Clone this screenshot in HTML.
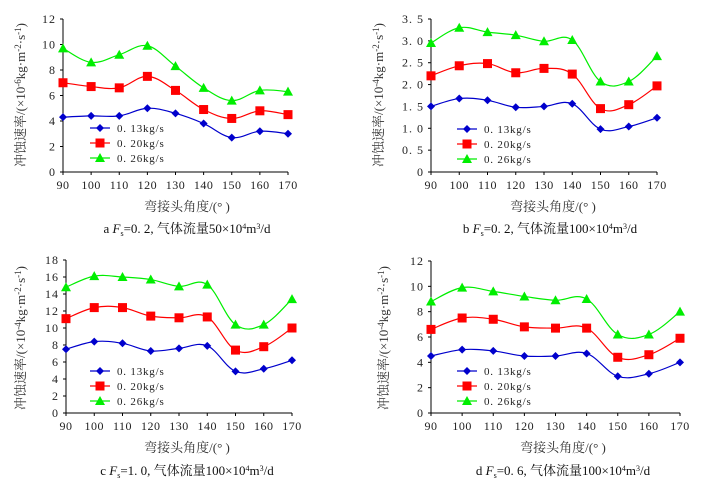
<!DOCTYPE html>
<html><head><meta charset="utf-8">
<style>
html,body{margin:0;padding:0;background:#fff;}
svg{display:block;font-family:"Liberation Serif","Noto Serif CJK SC","Noto Sans CJK SC",serif;}
</style></head>
<body>
<svg id="chart" width="703" height="490" viewBox="0 0 703 490" xmlns="http://www.w3.org/2000/svg"></svg>
<script>
const categories=[90,100,110,120,130,140,150,160,170];
const seriesNames=["0.13kg/s","0.20kg/s","0.26kg/s"];
const aBlue=[4.3,4.4,4.4,5.0,4.6,3.8,2.7,3.2,3.0];
const aRed=[7.0,6.7,6.6,7.5,6.4,4.9,4.2,4.8,4.5];
const aGreen=[9.7,8.6,9.2,9.9,8.3,6.6,5.6,6.4,6.3];
const bBlue=[1.5,1.68,1.64,1.48,1.5,1.56,0.98,1.04,1.24];
const bRed=[2.2,2.43,2.48,2.27,2.37,2.24,1.45,1.54,1.97];
const bGreen=[2.95,3.3,3.2,3.13,2.99,3.02,2.07,2.07,2.65];
const cBlue=[7.5,8.4,8.2,7.3,7.6,7.9,4.9,5.2,6.2];
const cRed=[11.1,12.4,12.4,11.4,11.2,11.3,7.4,7.8,10.0];
const cGreen=[14.8,16.1,16.0,15.7,14.9,15.1,10.4,10.4,13.4];
const dBlue=[4.5,5.0,4.9,4.5,4.5,4.7,2.9,3.1,4.0];
const dRed=[6.6,7.5,7.4,6.8,6.7,6.7,4.4,4.6,5.9];
const dGreen=[8.8,9.9,9.6,9.2,8.9,9.0,6.2,6.2,8.0];
const aTicks=[0,2,4,6,8,10,12];
const bTicks=["0","0.5","1.0","1.5","2.0","2.5","3.0","3.5"];
const cTicks=[0,2,4,6,8,10,12,14,16,18];
const dTicks=[0,2,4,6,8,10,12];

const NS="http://www.w3.org/2000/svg";
const svg=document.getElementById('chart');
function mk(tag,attrs,parent,text){const e=document.createElementNS(NS,tag);for(const k in attrs)e.setAttribute(k,attrs[k]);if(text!==undefined)e.textContent=text;(parent||svg).appendChild(e);return e;}

const panels=[
 {id:'a',x0:63,x1:288,yTop:19,yBot:172,ticks:aTicks,max:12,data:[aBlue,aRed,aGreen],lx:90,ly:128,ylx:25,yly:95,xl:[187,211],cap:[187,233],exp:'-6',fs:'0.2',flow:'50',letter:'a'},
 {id:'b',x0:431,x1:657,yTop:19,yBot:172,ticks:bTicks,max:3.5,data:[bBlue,bRed,bGreen],lx:457,ly:129,ylx:383,yly:95,xl:[553,211],cap:[550,233],exp:'-4',fs:'0.2',flow:'100',letter:'b'},
 {id:'c',x0:66,x1:292,yTop:260,yBot:413,ticks:cTicks,max:18,data:[cBlue,cRed,cGreen],lx:90,ly:371,ylx:25,yly:338,xl:[187,452],cap:[187,475],exp:'-4',fs:'1.0',flow:'100',letter:'c'},
 {id:'d',x0:431,x1:680,yTop:261,yBot:413,ticks:dTicks,max:12,data:[dBlue,dRed,dGreen],lx:457,ly:371,ylx:388,yly:338,xl:[563,452],cap:[563,475],exp:'-4',fs:'0.6',flow:'100',letter:'d'}
];
const colors=['#0000cc','#ff0000','#00ee00'];

function marker(g,type,x,y,c){
 if(type===0) return mk('polygon',{points:`${x},${y-4} ${x+4},${y} ${x},${y+4} ${x-4},${y}`,fill:c},g);
 if(type===1) return mk('rect',{x:x-4.5,y:y-4.5,width:9,height:9,fill:c},g);
 return mk('polygon',{points:`${x},${y-5} ${x+5},${y+4} ${x-5},${y+4}`,fill:c},g);
}
function smooth(pts){
 let d=`M${pts[0][0]},${pts[0][1]}`;
 for(let i=0;i<pts.length-1;i++){
  const p0=pts[i-1]||pts[i],p1=pts[i],p2=pts[i+1],p3=pts[i+2]||p2;
  const t=0.18;
  d+=` C${p1[0]+(p2[0]-p0[0])*t},${p1[1]+(p2[1]-p0[1])*t} ${p2[0]-(p3[0]-p1[0])*t},${p2[1]-(p3[1]-p1[1])*t} ${p2[0]},${p2[1]}`;
 }
 return d;
}

panels.forEach(p=>{
 const g=mk('g',{});
 
 
 const xs=v=>p.x0+(v-categories[0])/(categories[categories.length-1]-categories[0])*(p.x1-p.x0);
 const ys=v=>p.yBot-v/p.max*(p.yBot-p.yTop);
 const yax=mk('line',{x1:p.x0,y1:p.yTop,x2:p.x0,y2:p.yBot,stroke:'#000','stroke-width':1},g);
 
 const xax=mk('line',{x1:p.x0,y1:p.yBot,x2:p.x1,y2:p.yBot,stroke:'#000','stroke-width':1},g);
 
 p.ticks.forEach(t=>{
  const y=ys(parseFloat(t));
  mk('line',{x1:p.x0-3,y1:y,x2:p.x0,y2:y,stroke:'#000'},g);
  const tl=mk('text',{x:p.x0-7,y:y+4,'text-anchor':'end','font-size':12,fill:'#222','letter-spacing':'1'},g,String(t).replace('.','. '));
  
 });
 categories.forEach(c=>{
  const x=xs(c);
  mk('line',{x1:x,y1:p.yBot,x2:x,y2:p.yBot+3,stroke:'#000'},g);
  const tl=mk('text',{x:x,y:p.yBot+17,'text-anchor':'middle','font-size':12,fill:'#222','letter-spacing':'0.5'},g,String(c));
  
 });
 p.data.forEach((vals,si)=>{
  const pts=vals.map((v,i)=>[xs(categories[i]),ys(v)]);
  const ln=mk('path',{d:smooth(pts),fill:'none',stroke:colors[si],'stroke-width':1.2},g);
  
  
  pts.forEach(pt=>{
   const m=marker(g,si,pt[0],pt[1],colors[si]);
   
   
  });
  const ly=p.ly+si*15;
  const lg=mk('g',{},g);
  
  
  mk('line',{x1:p.lx,y1:ly,x2:p.lx+20,y2:ly,stroke:colors[si],'stroke-width':1.2},lg);
  marker(lg,si,p.lx+10,ly,colors[si]);
  mk('text',{x:p.lx+27,y:ly+4,'font-size':11,fill:'#222','letter-spacing':'0.8'},lg,seriesNames[si].replace('0.','0. '));
 });
 const yl=mk('text',{x:p.ylx,y:p.yly,'text-anchor':'middle','font-size':13,fill:'#333',transform:`rotate(-90 ${p.ylx} ${p.yly})`},g);
 
 yl.innerHTML=`冲蚀速率/(×10<tspan dy="-4" font-size="9">${p.exp}</tspan><tspan dy="4">kg·m</tspan><tspan dy="-4" font-size="9">-2</tspan><tspan dy="4">·s</tspan><tspan dy="-4" font-size="9">-1</tspan><tspan dy="4">)</tspan>`;
 const xl=mk('text',{x:p.xl[0],y:p.xl[1],'text-anchor':'middle','font-size':13,fill:'#333'},g,'弯接头角度/(° )');
 
 const cap=mk('text',{x:p.cap[0],y:p.cap[1],'text-anchor':'middle','font-size':13,fill:'#111'},g);
 
 cap.innerHTML=`${p.letter} <tspan font-style="italic">F</tspan><tspan font-size="8" dy="3">s</tspan><tspan dy="-3">=${p.fs.replace('.','. ')}, 气体流量${p.flow}×10</tspan><tspan font-size="8" dy="-4">4</tspan><tspan dy="4">m</tspan><tspan font-size="8" dy="-4">3</tspan><tspan dy="4">/d</tspan>`;
});
</script>
</body></html>
